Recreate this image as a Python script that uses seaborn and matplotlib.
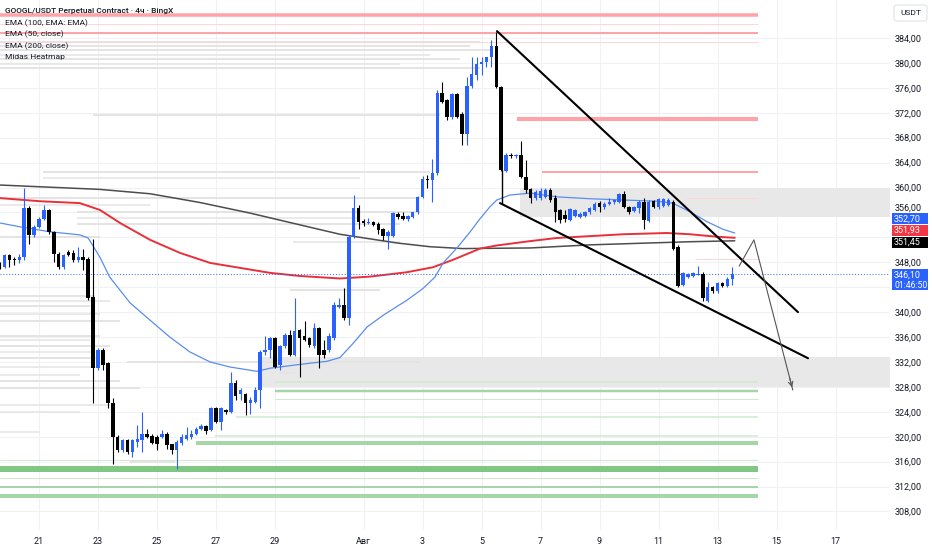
import matplotlib
matplotlib.use("Agg")
import matplotlib.pyplot as plt
import numpy as np
import pandas as pd
import seaborn as sns
from matplotlib.patches import Rectangle, FancyBboxPatch
from matplotlib.ticker import FixedLocator, FuncFormatter

# ---------------- data ----------------
bar_index = list(range(-8, 142))  # 4h bars, 0 = 21 Jul 00:00
opens = [347.8, 347.3, 349.2, 348.6, 348.3, 348.9, 356.7, 352.4,
         353.7, 355.0, 356.4, 352.9, 349.4, 347.3, 349.7, 349.5, 348.3, 348.8,
         348.5, 342.5, 331.0, 333.9, 331.8, 325.4, 320.0, 317.9, 319.4, 317.6,
         319.2, 319.5, 320.4, 320.1, 320.0, 320.0, 320.5, 318.8, 317.9, 319.0,
         319.7, 320.0, 320.5, 321.3, 321.7, 321.1, 324.6, 322.4, 324.3, 324.0,
         328.7, 326.8, 326.8, 325.4, 325.6, 327.5, 333.6, 333.9, 335.8, 331.5,
         334.5, 336.3, 333.1, 337.1, 336.1, 335.8, 334.5, 337.4, 333.9, 333.9,
         335.8, 340.9, 341.1, 339.0, 352.1, 356.7, 354.7, 354.3, 354.5, 354.1,
         353.3, 352.2, 352.2, 355.8, 355.4, 354.9, 355.3, 356.0, 358.5, 361.3,
         361.2, 362.3, 375.1, 374.0, 371.3, 375.0, 371.8, 368.6, 376.3, 378.1,
         379.8, 380.2, 380.9, 382.7, 376.1, 362.7, 365.2, 365.0, 365.2, 361.7,
         359.7, 358.3, 358.3, 358.5, 359.6, 358.3, 356.4, 355.6, 354.8, 355.4,
         355.3, 355.4, 356.0, 356.4, 357.5, 356.8, 357.4, 357.6, 357.7, 359.0,
         356.9, 356.3, 356.7, 357.7, 354.7, 357.9, 356.8, 357.0, 357.2, 357.7,
         350.5, 344.4, 345.7, 345.8, 346.0, 346.2, 341.8, 344.0, 343.4, 344.7,
         344.2, 345.3]
highs = [348.1, 349.4, 349.4, 348.8, 349.3, 359.9, 357.0, 354.0,
         355.3, 357.2, 356.6, 353.1, 349.6, 349.4, 350.0, 349.9, 350.4, 350.2,
         348.8, 351.7, 334.2, 334.2, 332.0, 326.2, 320.3, 319.6, 319.6, 319.6,
         321.9, 324.0, 321.3, 320.4, 320.2, 321.1, 320.8, 318.9, 319.4, 320.5,
         321.6, 321.1, 321.5, 322.0, 321.9, 324.8, 324.8, 324.8, 324.5, 330.4,
         329.1, 327.8, 327.1, 326.4, 328.0, 333.9, 336.1, 336.0, 336.0, 334.7,
         336.6, 337.1, 342.2, 337.3, 338.5, 336.0, 338.2, 337.6, 335.5, 336.6,
         341.7, 342.2, 343.8, 352.4, 358.8, 357.2, 354.9, 355.1, 354.7, 354.5,
         353.5, 353.2, 356.1, 356.0, 356.1, 355.6, 356.1, 358.7, 361.9, 362.0,
         364.5, 375.7, 377.0, 374.2, 375.2, 375.2, 372.2, 377.8, 381.0, 381.0,
         381.0, 381.0, 383.7, 385.0, 376.3, 365.5, 365.6, 365.4, 367.4, 364.4,
         359.9, 359.6, 359.9, 360.0, 359.9, 358.8, 356.5, 356.4, 356.7, 356.6,
         356.0, 356.3, 356.9, 357.6, 357.9, 357.7, 358.3, 358.2, 359.2, 359.5,
         357.1, 357.0, 358.0, 358.3, 358.0, 358.0, 358.3, 358.3, 358.3, 358.0,
         350.7, 346.5, 346.3, 346.5, 347.4, 346.4, 344.9, 344.2, 344.9, 344.9,
         345.7, 347.3]
lows = [347.0, 347.1, 347.3, 347.6, 347.9, 348.4, 351.0, 352.0,
        353.5, 354.8, 352.5, 348.1, 347.0, 347.0, 349.0, 348.1, 348.1, 346.8,
        341.9, 325.4, 330.7, 330.7, 324.6, 315.7, 317.5, 317.6, 317.3, 316.8,
        318.4, 317.6, 319.8, 318.8, 317.9, 319.8, 318.1, 317.3, 314.9, 318.7,
        319.5, 319.7, 320.3, 321.1, 320.5, 320.9, 322.2, 321.1, 323.6, 323.8,
        325.9, 325.9, 323.5, 323.7, 325.4, 324.6, 333.1, 332.6, 331.0, 330.7,
        334.2, 332.9, 332.9, 329.6, 335.3, 334.4, 334.3, 331.0, 332.6, 333.6,
        335.6, 340.7, 338.7, 337.9, 351.9, 353.3, 353.8, 354.1, 353.8, 352.6,
        351.6, 350.1, 352.0, 355.0, 354.8, 354.7, 355.1, 355.8, 358.3, 359.9,
        357.7, 362.0, 373.6, 370.8, 371.0, 371.1, 366.8, 366.8, 375.9, 377.3,
        378.1, 379.4, 379.4, 375.9, 362.6, 362.5, 364.7, 364.8, 361.5, 359.2,
        357.5, 358.0, 358.0, 358.3, 357.7, 354.5, 354.3, 354.5, 354.6, 355.2,
        355.1, 355.2, 355.8, 356.2, 356.1, 356.6, 357.2, 357.4, 357.5, 356.7,
        355.8, 356.1, 355.9, 353.3, 354.5, 356.7, 356.6, 356.8, 357.0, 349.9,
        344.0, 344.2, 345.5, 345.6, 345.9, 341.8, 341.7, 343.0, 343.1, 344.0,
        344.0, 344.4]
closes = [347.3, 349.2, 348.4, 348.3, 348.8, 356.7, 352.4, 353.7,
          355.0, 356.4, 352.9, 349.4, 347.3, 349.2, 349.2, 348.4, 348.8, 348.4,
          342.2, 331.0, 333.9, 331.5, 325.4, 320.0, 317.9, 319.4, 317.6, 319.4,
          319.7, 320.4, 320.0, 319.0, 318.8, 320.5, 318.7, 317.9, 319.2, 320.0,
          320.3, 320.5, 321.3, 321.7, 321.0, 324.6, 322.4, 324.6, 323.9, 328.6,
          326.5, 327.5, 325.4, 325.9, 327.5, 333.6, 333.9, 335.8, 331.2, 334.5,
          336.3, 333.1, 336.9, 335.8, 335.5, 334.7, 337.4, 333.1, 333.1, 336.1,
          341.1, 341.1, 339.0, 352.1, 356.7, 354.5, 354.3, 354.5, 354.0, 353.2,
          352.2, 352.9, 355.9, 355.2, 354.9, 355.4, 356.0, 358.5, 361.3, 361.2,
          362.3, 375.1, 373.8, 371.3, 375.0, 371.4, 368.6, 376.3, 378.3, 379.8,
          380.2, 380.9, 382.7, 376.1, 362.8, 365.2, 365.0, 365.2, 361.7, 359.6,
          358.3, 359.3, 359.4, 359.6, 358.0, 356.1, 354.8, 354.9, 356.5, 356.4,
          355.8, 356.1, 356.7, 357.4, 356.8, 357.4, 357.7, 358.0, 359.0, 356.9,
          356.0, 356.8, 357.7, 354.8, 357.7, 356.8, 358.1, 358.1, 358.0, 350.2,
          344.2, 346.3, 346.1, 346.3, 346.2, 342.2, 344.1, 343.4, 344.6, 344.2,
          345.3, 346.1]

# EMA curves (bar index, price)
ema50_x = [-7.9, -3.9, 2.2, 8.3, 10.0, 12.4, 14.4, 18.5, 22.6, 26.6, 30.7, 34.8, 38.8, 44.3,
           47.0, 51.0, 55.1, 58.5, 61.2, 63.9, 66.7, 70.0, 74.8, 78.1, 80.5, 82.2, 85.0, 87.7,
           89.5, 91.7, 93.1, 95.8, 99.9, 105.3, 112.1, 118.8, 125.7, 128.9, 132.4, 135.9, 139.1, 141.5]
ema50_y = [354.3, 353.7, 352.9, 352.4, 351.9, 348.8, 345.6, 341.5, 338.7, 336.0, 333.6, 332.0, 331.2, 330.5,
           331.0, 331.4, 331.8, 332.1, 332.7, 335.0, 337.6, 339.5, 341.9, 343.8, 345.6, 347.9, 350.3, 352.9,
           354.8, 356.9, 358.0, 358.8, 359.1, 358.5, 358.2, 358.0, 357.8, 357.5, 356.1, 354.5, 353.3, 352.7]
ema100_x = [-7.9, 0.2, 8.3, 12.4, 16.5, 22.6, 28.7, 34.8, 40.9, 47.0, 53.1, 61.2, 67.3, 74.8,
            80.1, 84.2, 89.7, 93.1, 99.9, 105.3, 112.1, 118.8, 127.7, 132.4, 137.9, 141.5]
ema100_y = [358.3, 357.8, 357.5, 356.4, 354.3, 351.6, 349.5, 347.9, 347.1, 346.3, 345.8, 345.4, 345.7, 346.4,
            347.2, 348.4, 350.2, 350.7, 351.4, 351.9, 352.2, 352.5, 352.7, 352.5, 352.1, 351.93]
ema200_x = [-7.9, 12.4, 22.6, 32.7, 42.9, 53.1, 61.2, 72.8, 79.5, 86.2, 99.9, 112.1, 132.4, 141.5]
ema200_y = [360.4, 359.7, 359.0, 357.6, 355.9, 354.0, 352.5, 351.1, 350.5, 350.2, 350.3, 350.8, 351.3, 351.45]

# Midas heatmap levels (price, from bar, to bar, weight)
heat_price = [383.4, 382.7, 382.1, 381.3, 380.6, 379.8, 379.2, 371.6, 362.5, 361.5, 358.3, 357.2,
              356.1, 355.1, 354.1, 352.1, 351.3, 343.6, 342.6, 341.8, 341.0, 339.7, 338.6, 336.2,
              335.5, 334.6, 333.6, 332.6, 332.0, 331.2, 330.2, 329.9, 328.9, 327.8, 325.1, 324.0,
              320.8, 315.9]
heat_from = [-7.9, -7.9, -7.9, -7.9, -7.9, -7.9, -7.9, 11.0, 0.8, 0.8, -7.9, -7.9,
             7.7, 7.7, 7.7, -7.9, 51.7, 51.0, -7.9, -7.9, -7.9, -7.9, -7.9, -7.9,
             -7.9, -7.9, -7.9, -7.9, 17.9, -7.9, 48.8, -7.9, -7.9, -7.9, -7.9, -7.9,
             -7.9, 18.5]
heat_to = [89.7, 87.7, 91.7, 79.5, 85.6, 73.4, 89.7, 81.6, 79.5, 65.3, 77.5, 22.6,
           77.5, 65.3, 73.4, 12.4, 73.4, 69.4, 11.4, 14.4, 10.4, 12.4, 16.5, 12.4,
           10.4, 14.4, 11.4, 12.4, 77.5, 12.4, 52.5, 8.3, 16.5, 20.5, 14.4, 8.3,
           0.2, 27.7]
heat_weight = [2, 2, 2, 1.5, 2, 1.5, 2, 2, 2, 1.5, 2, 1.5,
               2, 1.5, 2, 2, 1.5, 2, 2, 1.5, 2, 1.5, 2, 2,
               1.5, 2, 1.5, 2, 2, 1.5, 2, 1.5, 2, 2, 1.5, 1.5,
               1.5, 2]

# Resistance (red) and support (green) levels: price, from bar
red_price = [387.7, 386.25, 384.85, 383.4, 371.0, 362.5, 358.3, 348.5]
red_from = [-7.9, -7.9, -7.9, -7.9, 97.2, 102.3, 131.4, 133.4]
red_weight = [3.5, 1, 2, 1, 4, 2, 1, 1]
green_price = [328.75, 327.4, 326.0, 323.1, 320.15, 318.95, 316.25, 314.77, 313.4, 311.93, 310.5]
green_from = [48.0, 48.0, 48.0, 40.1, 35.8, 31.9, -7.9, -7.9, -7.9, -7.9, -7.9]
green_weight = [1.5, 2.5, 1, 1.5, 1.5, 4, 1, 6, 1, 2, 4]
level_end = 146.2

# Zones (price low, price high, from bar)
zone_low = [355.27, 328.0]
zone_high = [359.92, 332.8]
zone_from = [97.8, 45.4]

# Drawings: wedge lines and projection
wedge_upper_x = [93.15, 154.36]
wedge_upper_y = [385.1, 340.0]
wedge_lower_x = [93.76, 156.4]
wedge_lower_y = [357.5, 332.6]
wedge_stem_x = [94.2, 94.2]
wedge_stem_y = [362.8, 357.5]
proj_x = [142.4, 145.4, 153.3]
proj_y = [347.4, 351.6, 327.5]

last_price = 346.10
date_ticks = [0, 12, 24, 36, 48, 66, 78, 90, 102, 114, 126, 138, 150, 162]
date_labels = ["21", "23", "25", "27", "29", "Авг", "3", "5", "7", "9", "11", "13", "15", "17"]
price_ticks = [p for p in range(308, 388, 4) if p not in (344, 352)]
grid_prices = list(range(308, 388, 4))
legend_lines = ["GOOGL/USDT Perpetual Contract · 4ч · BingX", "EMA (100, EMA: EMA)",
                "EMA (50, close)", "EMA (200, close)", "Midas Heatmap"]

# ---------------- figure ----------------
sns.set_theme(style="white")
plt.rcParams["font.family"] = ["Roboto", "DejaVu Sans"]

W, H = 932, 550
fig = plt.figure(figsize=(W / 100, H / 100), dpi=100)
fig.patch.set_facecolor("white")
ax = fig.add_axes([0, 20 / H, 890 / W, 530 / H])
ax.set_facecolor("white")
ax.set_xlim(-7.93, 173.07)
ax.set_ylim(305.03, 390.10)
for s in ax.spines.values():
    s.set_visible(False)

# grid
for t in date_ticks:
    ax.axvline(t, color="#f0f1f4", lw=0.8, zorder=0)
for p in grid_prices:
    ax.axhline(p, color="#f0f1f4", lw=0.8, zorder=0)

# zones
for lo, hi, x0 in zip(zone_low, zone_high, zone_from):
    ax.add_patch(Rectangle((x0, lo), 180 - x0, hi - lo, facecolor="#e8e8e8",
                           edgecolor="none", zorder=0.5))

# heatmap
for p, a, b, w in zip(heat_price, heat_from, heat_to, heat_weight):
    ax.hlines(p, a, b, color="#e4e4e4", lw=w * 0.72, zorder=0.6)

# levels
for p, a, w in zip(red_price, red_from, red_weight):
    col = "#ffa3a6" if w >= 2 else "#ffd5d7"
    ax.hlines(p, a, level_end, color=col, lw=w * 0.72, zorder=0.8)
for p, a, w in zip(green_price, green_from, green_weight):
    if w >= 6:
        col = "#81c784"
    elif w >= 2:
        col = "#a5d6a7"
    else:
        col = "#cfe9d0"
    ax.hlines(p, a, level_end, color=col, lw=w * 0.72, zorder=0.8)

# EMA lines via seaborn
sns.lineplot(x=ema200_x, y=ema200_y, ax=ax, color="#4d4d4d", lw=1.1, zorder=2)
sns.lineplot(x=ema100_x, y=ema100_y, ax=ax, color="#e8303a", lw=1.4, zorder=2)
sns.lineplot(x=ema50_x, y=ema50_y, ax=ax, color="#5a8df0", lw=0.9, zorder=2)

# candles
df = pd.DataFrame({"i": bar_index, "o": opens, "h": highs, "l": lows, "c": closes})
up = df["c"] >= df["o"]
colors = np.where(up, "#2962ff", "#000000")
ax.vlines(df["i"], df["l"], df["h"], colors=colors, lw=0.8, zorder=3)
body_lo = np.minimum(df["o"], df["c"])
body_h = np.maximum((df["c"] - df["o"]).abs(), 0.15)
ax.bar(df["i"], body_h, bottom=body_lo, width=0.72, color=colors, edgecolor="none", zorder=4)

# wedge drawings
ax.plot(wedge_upper_x, wedge_upper_y, color="black", lw=1.5, zorder=5, solid_capstyle="round")
ax.plot(wedge_lower_x, wedge_lower_y, color="black", lw=1.5, zorder=5, solid_capstyle="round")
ax.plot(wedge_stem_x, wedge_stem_y, color="black", lw=1.0, zorder=5)
ax.plot(proj_x, proj_y, color="#555555", lw=0.8, zorder=5)
ax.annotate("", xy=(proj_x[-1], proj_y[-1]), xytext=(proj_x[-2] + (proj_x[-1] - proj_x[-2]) * 0.9,
                                                      proj_y[-2] + (proj_y[-1] - proj_y[-2]) * 0.9),
            arrowprops=dict(arrowstyle="->", color="#555555", lw=0.8, mutation_scale=8), zorder=5)

# last price dotted line
ax.axhline(last_price, color="#2962ff", lw=0.7, ls=(0, (1, 2)), zorder=2.5)

# axes ticks
ax.xaxis.set_major_locator(FixedLocator(date_ticks))
ax.set_xticklabels(date_labels)
ax.yaxis.tick_right()
ax.yaxis.set_major_locator(FixedLocator(price_ticks))
ax.yaxis.set_major_formatter(FuncFormatter(lambda v, _: f"{v:.2f}".replace(".", ",")))
ax.tick_params(axis="x", length=0, pad=5, labelsize=6.5, labelcolor="#131722")
ax.tick_params(axis="y", length=0, pad=3, labelsize=6.5, labelcolor="#131722")
ax.set_xlabel("")
ax.set_ylabel("")
for lbl in ax.get_yticklabels():
    if lbl.get_text() == "356,00":
        lbl.set_va("bottom")

# price labels on right scale
ytr = ax.get_yaxis_transform()
box_h = 11 / 6.23
price_labels = [("352,70", 354.95, "#2962ff"), ("351,93", 353.1, "#f23645"), ("351,45", 351.2, "#000000")]
for txt, yc, col in price_labels:
    ax.add_patch(Rectangle((1.0022, yc - box_h / 2), 0.0405, box_h, transform=ytr,
                           facecolor=col, edgecolor="none", clip_on=False, zorder=10))
    ax.text(1.0045, yc, txt, transform=ytr, color="white", fontsize=6.5, va="center",
            ha="left", zorder=11, clip_on=False)
big_h = 21.5 / 6.23
ax.add_patch(Rectangle((1.0022, 345.2 - big_h / 2), 0.0405, big_h, transform=ytr,
                       facecolor="#2962ff", edgecolor="none", clip_on=False, zorder=10))
ax.text(1.0045, 346.0, "346,10", transform=ytr, color="white", fontsize=6.5, va="center",
        ha="left", zorder=11, clip_on=False)
ax.text(1.0045, 344.35, "01:46:50", transform=ytr, color="white", fontsize=6.2, va="center",
        ha="left", zorder=11, clip_on=False)

# USDT box
fig.patches.append(FancyBboxPatch((894 / W, 1 - 21 / H), 33 / W, 16 / H,
                                  boxstyle="round,pad=0,rounding_size=0.004",
                                  transform=fig.transFigure, facecolor="white",
                                  edgecolor="#e0e3eb", lw=0.8))
fig.text(910.5 / W, 1 - 13 / H, "USDT", ha="center", va="center", fontsize=6, color="#131722")

# legend text
ys = [11.5, 23, 34.5, 46, 57.5]
for i, (t, y) in enumerate(zip(legend_lines, ys)):
    fig.text(5 / W, 1 - y / H, t, ha="left", va="center", fontsize=6.0, color="#131722",
             fontweight="medium" if i == 0 else "normal")

fig.savefig("out.png", dpi=100, facecolor="white")
